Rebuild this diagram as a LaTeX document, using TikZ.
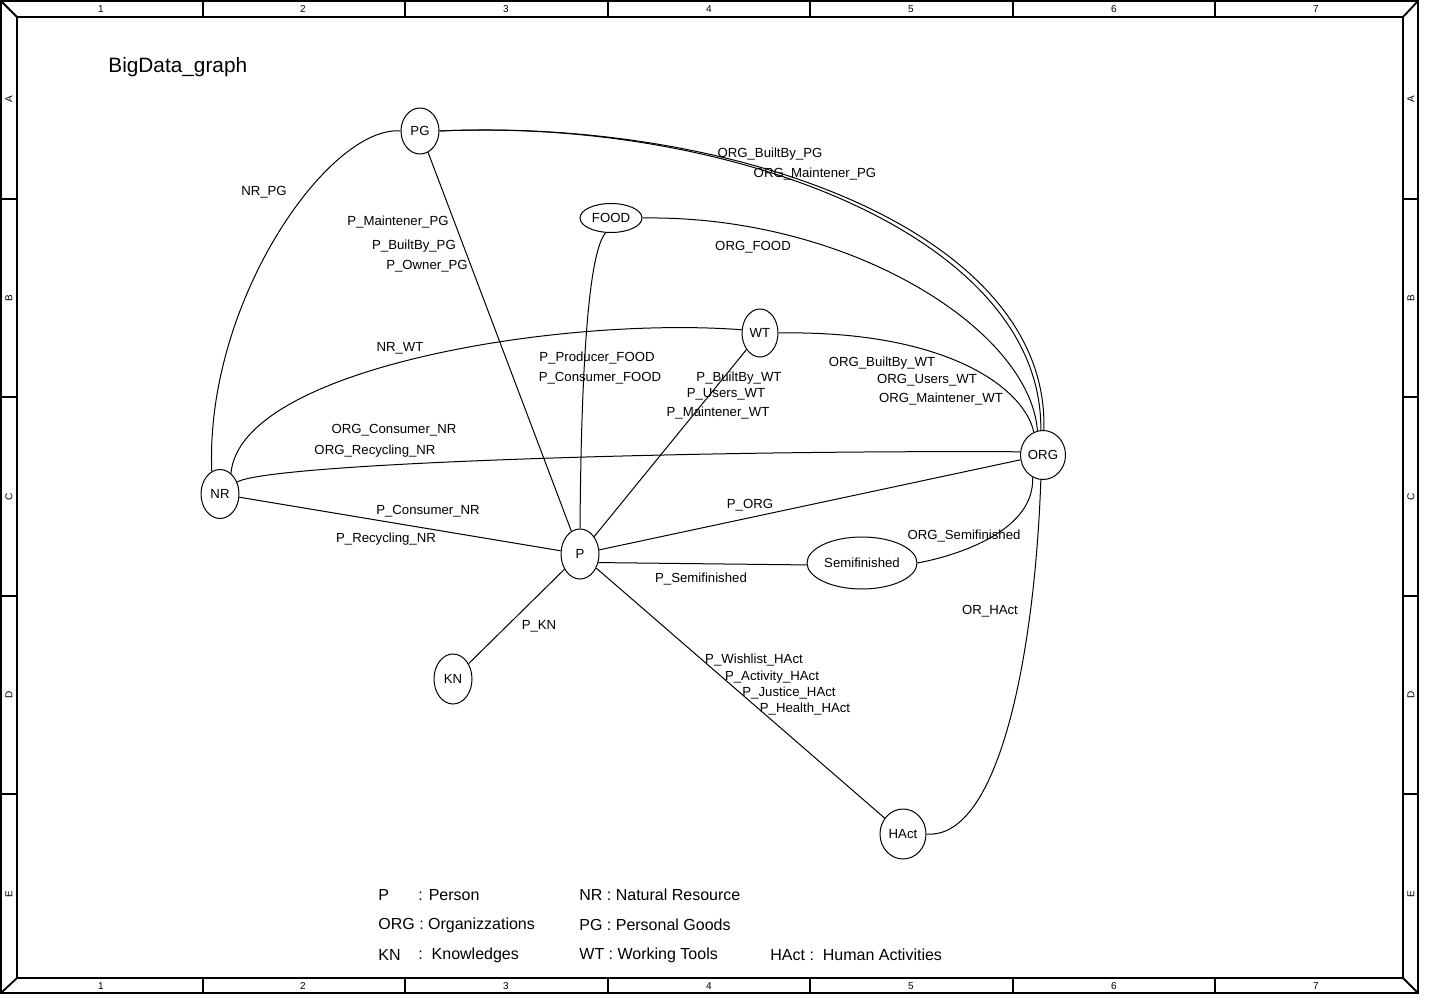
\documentclass[tikz,border=0pt]{standalone}
\usepackage{fontspec}
\setmainfont{Liberation Sans}
\usetikzlibrary{shapes.geometric}
\begin{document}
\begin{tikzpicture}[x=0.5pt,y=-0.5pt,
  ent/.style={draw,ellipse,inner sep=0pt,line width=0.5pt,font=\fontsize{6.6pt}{8pt}\selectfont},
  rel/.style={line width=0.5pt},
  lbl/.style={inner sep=0pt,font=\fontsize{6.6pt}{8pt}\selectfont},
  leg/.style={inner sep=0pt,anchor=west,font=\fontsize{8pt}{9.6pt}\selectfont},
  frm/.style={line width=0.9pt},
  fl/.style={inner sep=0pt,font=\fontsize{5pt}{6pt}\selectfont}]
\useasboundingbox (0,0) rectangle (1430,1005);
% ---------- frame ----------
\draw[frm] (1,1) rectangle (1418,993);
\draw[frm] (17,17) rectangle (1403,978);
\draw[frm] (1,1) -- (17,17);
\draw[frm] (1418,1) -- (1403,17);
\draw[frm] (1,993) -- (17,978);
\draw[frm] (1418,993) -- (1403,978);
\foreach \x in {203,405,608,810,1013,1215}{
  \draw[frm] (\x,1) -- (\x,17);
  \draw[frm] (\x,978) -- (\x,993);
}
\foreach \y in {199,397,596,794}{
  \draw[frm] (1,\y) -- (17,\y);
  \draw[frm] (1403,\y) -- (1418,\y);
}
\foreach \x/\t in {101/1,303/2,506/3,709/4,911/5,1114/6,1316/7}{
  \node[fl] (ct\t) at (\x,9) {\t};
  \node[fl] (cb\t) at (\x,986) {\t};
}
\foreach \y/\t in {99/A,298/B,497/C,695/D,894/E}{
  \node[fl,rotate=90] (rl\t) at (9,\y) {\t};
  \node[fl,rotate=90] (rr\t) at (1411,\y) {\t};
}
% ---------- title ----------
\node[inner sep=0pt,anchor=west,font=\fontsize{10.4pt}{12pt}\selectfont] (title) at (108,67) {BigData\_graph};
% ---------- entities ----------
\node[ent,minimum width=19pt,minimum height=23pt] (PG) at (420,131) {PG};
\node[ent,minimum width=31pt,minimum height=14.5pt] (FOOD) at (611,218) {FOOD};
\node[ent,minimum width=18pt,minimum height=24pt] (WT) at (760,333) {WT};
\node[ent,minimum width=19pt,minimum height=24.5pt] (NR) at (220,494) {NR};
\node[ent,minimum width=22.5pt,minimum height=24.5pt] (ORG) at (1043,455) {ORG};
\node[ent,minimum width=19pt,minimum height=25pt] (P) at (580,554) {P};
\node[ent,minimum width=55pt,minimum height=26pt] (SF) at (862,563) {Semifinished};
\node[ent,minimum width=19pt,minimum height=25pt] (KN) at (453,679) {KN};
\node[ent,minimum width=23pt,minimum height=25pt] (HA) at (903,834) {HAct};
% ---------- relations ----------
\draw[rel] (PG.west) .. controls (330,125) and (205,300) .. (NR.110);
\draw[rel] (PG.east) .. controls (730,118) and (1050,230) .. (ORG.88);
\draw[rel] (PG.east) .. controls (730,118) and (1043,236) .. (ORG.95);
\draw[rel] (FOOD.east) .. controls (850,215) and (1030,330) .. (ORG.103);
\draw[rel] (FOOD.250) .. controls (586,255) and (581,400) .. (P.north);
\draw[rel] (WT.170) .. controls (560,316) and (240,368) .. (NR.62);
\draw[rel] (WT.east) .. controls (950,330) and (1025,390) .. (ORG.112);
\draw[rel] (NR.35) .. controls (270,463) and (700,450) .. (ORG.172);
\draw[rel] (ORG.245) .. controls (1035,530) and (960,555) .. (SF.east);
\draw[rel] (ORG.265) .. controls (1035,650) and (1000,840) .. (HA.east);
\draw[rel] (PG) -- (P);
\draw[rel] (WT) -- (P);
\draw[rel] (NR) -- (P);
\draw[rel] (P) -- (ORG);
\draw[rel] (P.-25) -- (SF.182);
\draw[rel] (P) -- (KN);
\draw[rel] (P) -- (HA);
% ---------- relation labels ----------
\node[lbl] (l1) at (264,192) {NR\_PG};
\node[lbl] (l2) at (770,154) {ORG\_BuiltBy\_PG};
\node[lbl] (l3) at (815,174) {ORG\_Maintener\_PG};
\node[lbl] (l4) at (398,222) {P\_Maintener\_PG};
\node[lbl] (l5) at (414,246) {P\_BuiltBy\_PG};
\node[lbl] (l6) at (427,266) {P\_Owner\_PG};
\node[lbl] (l7) at (753,247) {ORG\_FOOD};
\node[lbl] (l8) at (400,348) {NR\_WT};
\node[lbl] (l9) at (597,358) {P\_Producer\_FOOD};
\node[lbl] (l10) at (600,378) {P\_Consumer\_FOOD};
\node[lbl] (l11) at (739,378) {P\_BuiltBy\_WT};
\node[lbl] (l12) at (726,394) {P\_Users\_WT};
\node[lbl] (l13) at (718,413) {P\_Maintener\_WT};
\node[lbl] (l14) at (882,363) {ORG\_BuiltBy\_WT};
\node[lbl] (l15) at (927,380) {ORG\_Users\_WT};
\node[lbl] (l16) at (941,399) {ORG\_Maintener\_WT};
\node[lbl] (l17) at (394,430) {ORG\_Consumer\_NR};
\node[lbl] (l18) at (375,451) {ORG\_Recycling\_NR};
\node[lbl] (l19) at (428,511) {P\_Consumer\_NR};
\node[lbl] (l20) at (386,539) {P\_Recycling\_NR};
\node[lbl] (l21) at (750,505) {P\_ORG};
\node[lbl] (l22) at (964,536) {ORG\_Semifinished};
\node[lbl] (l23) at (701,579) {P\_Semifinished};
\node[lbl] (l24) at (990,611) {OR\_HAct};
\node[lbl] (l25) at (539,626) {P\_KN};
\node[lbl] (l26) at (754,660) {P\_Wishlist\_HAct};
\node[lbl] (l27) at (772,677) {P\_Activity\_HAct};
\node[lbl] (l28) at (789,693) {P\_Justice\_HAct};
\node[lbl] (l29) at (805,709) {P\_Health\_HAct};
% ---------- legend ----------
\node[leg] (g1) at (378,895) {P};
\node[leg] (g2) at (418,895) {: Person};
\node[leg] (g3) at (579,895) {NR : Natural Resource};
\node[leg] (g4) at (378,925) {ORG : Organizzations};
\node[leg] (g5) at (579,925) {PG : Personal Goods};
\node[leg] (g6) at (378,955) {KN};
\node[leg] (g7) at (418,955) {:\ \ Knowledges};
\node[leg] (g8) at (579,955) {WT : Working Tools};
\node[leg] (g9) at (770,955) {HAct :\ \ Human Activities};
\end{tikzpicture}
\end{document}
